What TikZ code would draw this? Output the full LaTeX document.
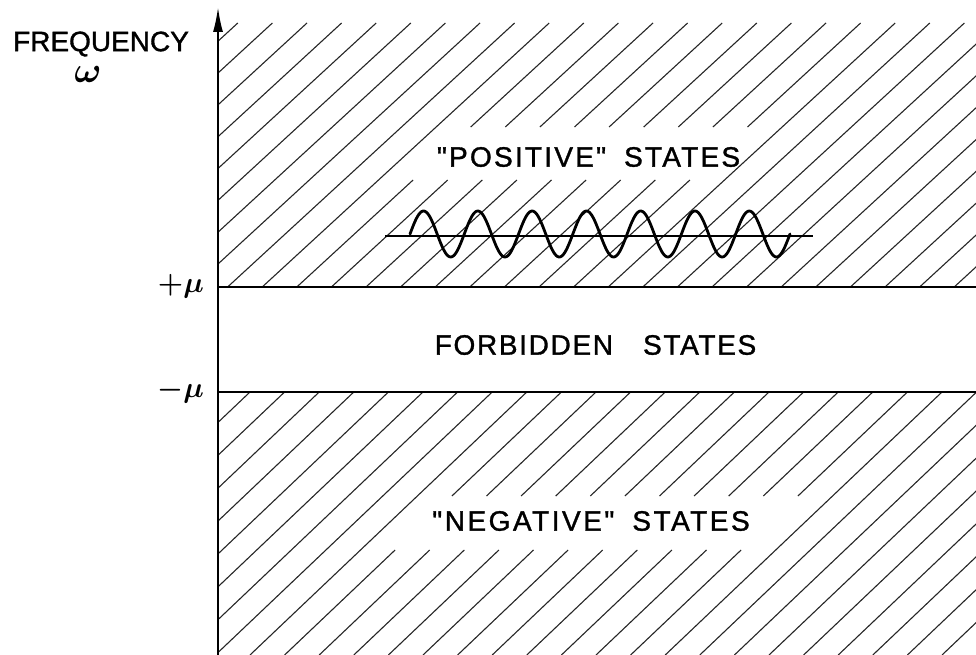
\RequirePackage{fix-cm}
\documentclass[tikz,border=0pt]{standalone}
\usepackage{fontspec}
\setmainfont{Liberation Sans}[Ligatures=TeXOff]
\newfontfamily\letterfont{Liberation Sans}[Ligatures=TeXOff, FakeBold=1.2]
\usetikzlibrary{arrows.meta}
\tikzset{
  hatch/.style={line width=1.1pt, black!85},
  axisline/.style={line width=2pt},
  levelline/.style={line width=1.8pt},
  wavecurve/.style={line width=2.8pt, line join=round, line cap=round},
  waveaxis/.style={line width=1.5pt},
  lettering/.style={font=\letterfont\fontsize{28}{30}\selectfont, inner sep=0pt},
  mulabel/.style={font=\fontsize{29}{31}\selectfont\boldmath, inner sep=0pt}
}
\begin{document}
\begin{tikzpicture}[x=1pt,y=-1pt]
\useasboundingbox (0,0) rectangle (976,655);
\fill[white] (0,0) rectangle (976,655);
% upper hatching ("positive" states)
\begin{scope}
\clip (218,23) rectangle (976,287);
\foreach \k in {-2,...,29}{
  \pgfmathsetmacro\xc{-14.6+34.6*\k}
  \ifnum\k<9
    \draw[hatch] (\xc,287) -- ++(287,-264);
  \else\ifnum\k>17
    \draw[hatch] (\xc,287) -- ++(287,-264);
  \else
    \draw[hatch] (\xc,287) -- ++(116.3,-107) (\xc+173.9,127) -- ++(113.1,-104);
  \fi\fi
}
\end{scope}
% lower hatching ("negative" states)
\begin{scope}
\clip (218,392) rectangle (976,655);
\foreach \k in {-1,...,30}{
  \pgfmathsetmacro\xc{250+34.6*\k}
  \ifnum\k<9
    \draw[hatch] (\xc,392) -- ++(-276.8,263);
  \else\ifnum\k>19
    \draw[hatch] (\xc,392) -- ++(-276.8,263);
  \else
    \draw[hatch] (\xc,392) -- ++(-109.5,104) (\xc-166.3,550) -- ++(-110.5,105);
  \fi\fi
}
\end{scope}
% axis
\coordinate (axbot) at (218,655);
\coordinate (axtop) at (218,7);
\draw[axisline, -{Latex[length=25pt,width=10pt]}] (axbot) -- (axtop);
% level lines
\coordinate (pmuL) at (218,287);
\coordinate (pmuR) at (976,287);
\coordinate (nmuL) at (218,392);
\coordinate (nmuR) at (976,392);
\draw[levelline] (pmuL) -- (pmuR);
\draw[levelline] (nmuL) -- (nmuR);
% wave
\coordinate (wL) at (385,236);
\coordinate (wR) at (813,236);
\draw[waveaxis] (wL) -- (wR);
\draw[wavecurve] plot[domain=410:790, samples=300, smooth] (\x,{234-23*sin(6.6316*(\x-410))});
% labels
\node[lettering] (freq) at (101,44) {FREQUENCY};
\node[inner sep=0pt, font=\fontsize{36}{38}\selectfont\boldmath] (omega) at (88,75) {$\omega$};
\node[mulabel, anchor=base east] (pmu) at (204,292) {$+\mu$};
\node[mulabel, anchor=base east] (nmu) at (204,397) {$-\mu$};
\node[lettering] (pos) at (588.5,157) {\addfontfeatures{LetterSpace=8}"POSITIVE"\hspace{18pt}STATES};
\node[lettering] (forb) at (595.5,345) {\addfontfeatures{LetterSpace=6}FORBIDDEN\hspace{30pt}STATES};
\node[lettering] (neg) at (591,521) {\addfontfeatures{LetterSpace=9}"NEGATIVE"\hspace{18pt}STATES};
\end{tikzpicture}
\end{document}
